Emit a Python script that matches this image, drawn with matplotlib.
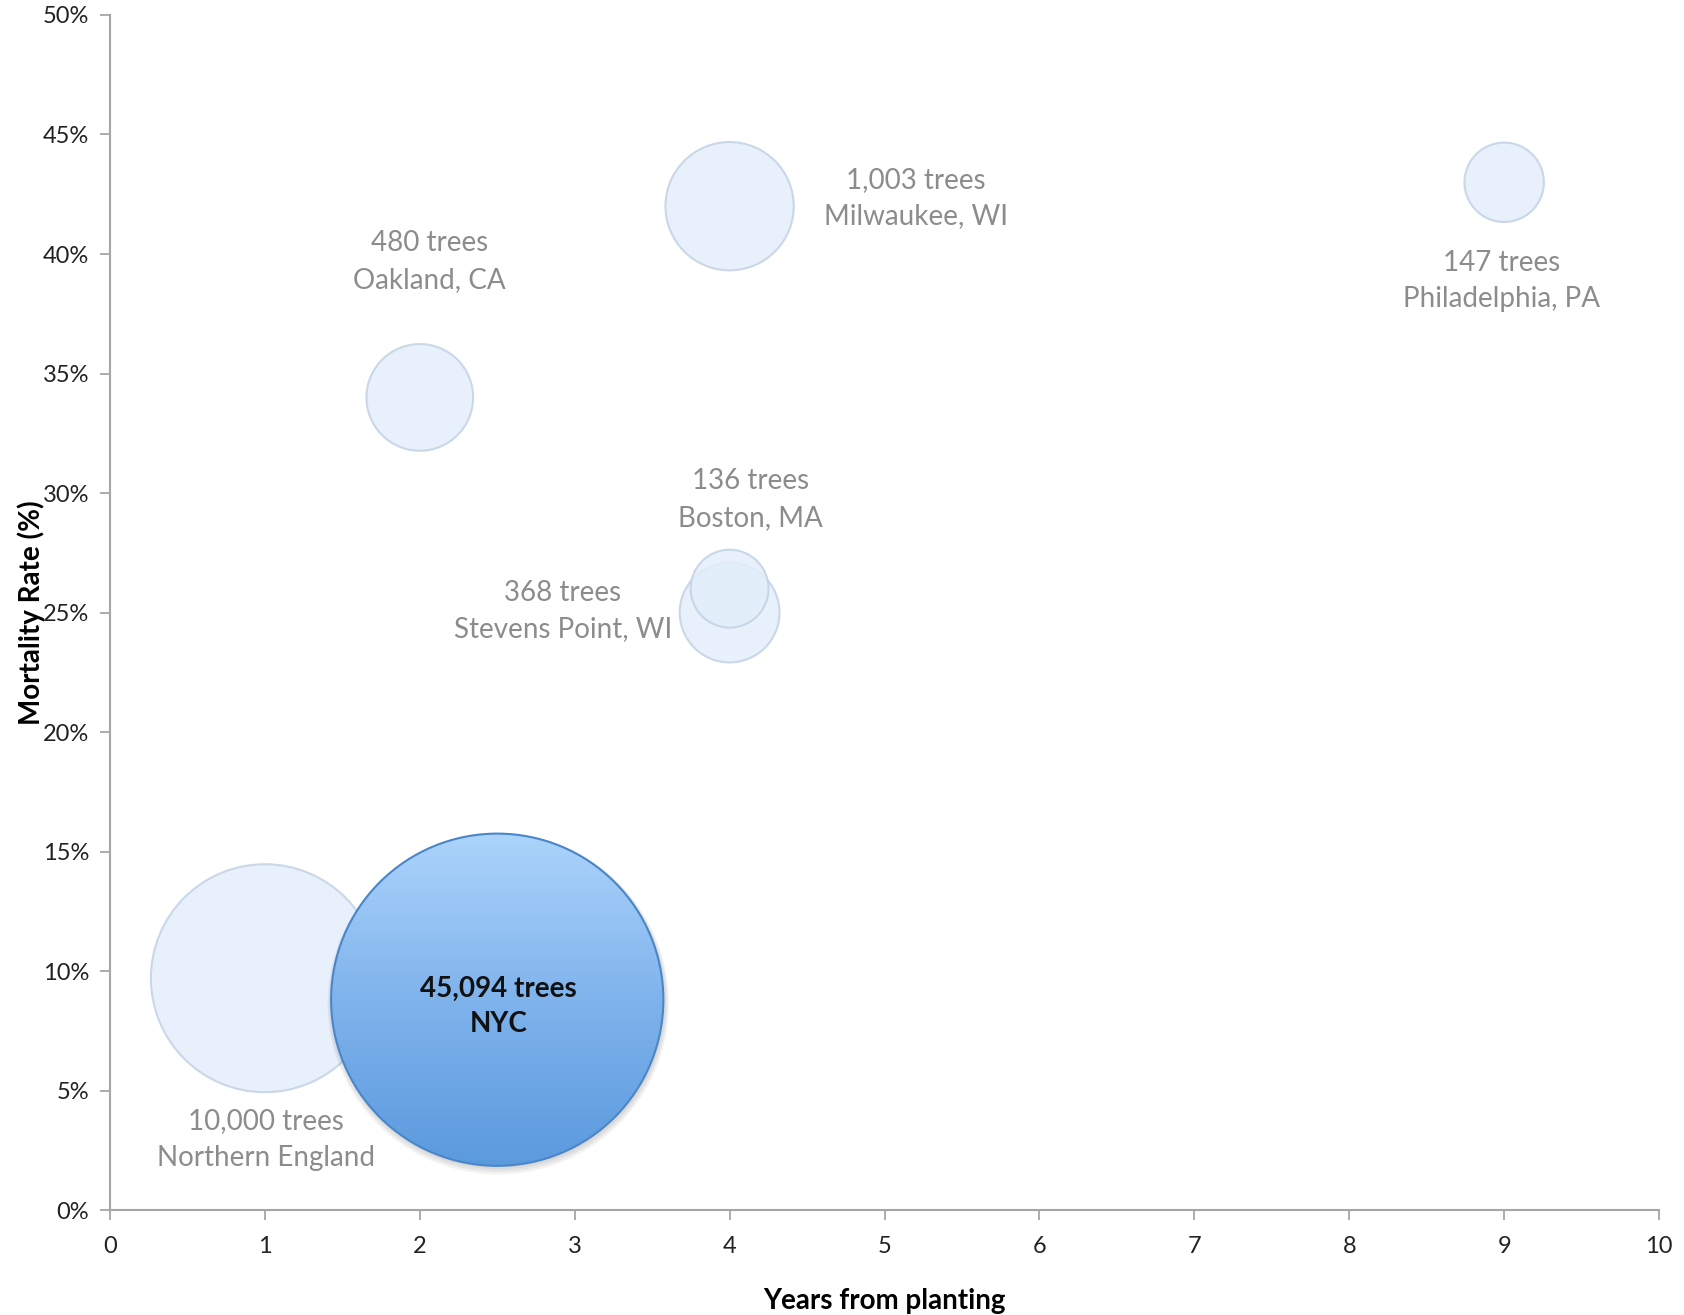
import matplotlib.pyplot as plt
import numpy as np
from matplotlib.patches import Ellipse
from matplotlib.colors import LinearSegmentedColormap

plt.rcParams['font.family'] = ['Lato', 'DejaVu Sans']

# study sites: years since planting, mortality rate (%), number of trees
cities = ['Oakland, CA', 'Milwaukee, WI', 'Philadelphia, PA', 'Stevens Point, WI',
          'Boston, MA', 'Northern England', 'NYC']
years = [2, 4, 9, 4, 4, 1, 2.5]
mortality = [34, 42, 43, 25, 26, 9.7, 8.8]
trees = [480, 1003, 147, 368, 136, 10000, 45094]

# label offsets (points) from each bubble centre
label_dx = [7, 134, -2, -120, 15, 1, 1]
label_dy = [98, 6, -71, 1, 64, -116, -5]

fig = plt.figure(figsize=(16.84, 13.15), dpi=100)
ax = fig.add_axes([0.0653, 0.0798, 0.9199, 0.9088])
ax.set_xlim(0, 10)
ax.set_ylim(0, 50)

# bubble radius in pixels grows with the fourth root of tree count
radius_px = [11.4 * t ** 0.25 for t in trees]

fig.canvas.draw()
p0 = ax.transData.transform((0, 0))
p1 = ax.transData.transform((1, 1))
px_x = p1[0] - p0[0]
px_y = p1[1] - p0[1]

for i in range(len(cities)):
    w = 2 * radius_px[i] / px_x
    h = 2 * radius_px[i] / px_y
    label = f'{trees[i]:,} trees\n{cities[i]}'
    if cities[i] == 'NYC':
        # soft drop shadow
        for k in range(3):
            sh = Ellipse((years[i] + 1 / px_x, mortality[i] - (k + 2) / px_y),
                         w + (k + 1) * 3 / px_x, h + (k + 1) * 3 / px_y,
                         facecolor='#000000', edgecolor='none', alpha=0.05, zorder=4)
            ax.add_patch(sh)
        circ = Ellipse((years[i], mortality[i]), w, h, facecolor='none',
                       edgecolor='#4a86c8', linewidth=1.5, zorder=6)
        ax.add_patch(circ)
        grad = np.linspace(0, 1, 256).reshape(-1, 1)
        cmap = LinearSegmentedColormap.from_list('nyc', ['#5b9ade', '#7fb3ec', '#acd4fb'])
        img = ax.imshow(grad, cmap=cmap,
                        extent=[years[i] - w / 2, years[i] + w / 2,
                                mortality[i] - h / 2, mortality[i] + h / 2],
                        origin='lower', aspect='auto', zorder=5)
        clip = Ellipse((years[i], mortality[i]), w, h, transform=ax.transData)
        img.set_clip_path(clip)
        ax.annotate(label, (years[i], mortality[i]),
                    textcoords='offset points', xytext=(label_dx[i], label_dy[i]),
                    ha='center', va='center', fontsize=20, fontweight='bold',
                    color='#111111', zorder=7, linespacing=1.45)
    else:
        circ = Ellipse((years[i], mortality[i]), w, h, facecolor='#e3eefb',
                       edgecolor='#c3d2e3', linewidth=1.5, alpha=0.85, zorder=3)
        ax.add_patch(circ)
        ax.annotate(label, (years[i], mortality[i]),
                    textcoords='offset points', xytext=(label_dx[i], label_dy[i]),
                    ha='center', va='center', fontsize=20, color='#8c8c8c',
                    zorder=7, linespacing=1.5)

ax.set_aspect('auto')
ax.set_xlim(0, 10)
ax.set_ylim(0, 50)

ax.set_xticks(range(0, 11))
ax.set_yticks(range(0, 51, 5))
ax.set_yticklabels([f'{v}%' for v in range(0, 51, 5)])
ax.tick_params(axis='both', labelsize=17, labelcolor='#222222', color='#a6a6a6',
               length=7, width=1.3, direction='out')
ax.tick_params(axis='x', pad=12)
ax.tick_params(axis='y', pad=8)

for side in ['top', 'right']:
    ax.spines[side].set_visible(False)
for side in ['left', 'bottom']:
    ax.spines[side].set_color('#a6a6a6')
    ax.spines[side].set_linewidth(1.5)

ax.set_xlabel('Years from planting', fontsize=20, fontweight='bold', labelpad=22)
ax.set_ylabel('Mortality Rate (%)', fontsize=20, fontweight='bold', labelpad=-2)

fig.savefig('out.png', dpi=100)
